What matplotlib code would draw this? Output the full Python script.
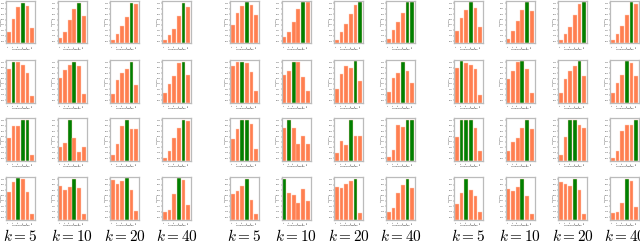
import matplotlib
matplotlib.use("Agg")
import matplotlib.pyplot as plt
import numpy as np

plt.rcParams['mathtext.fontset'] = 'cm'

k_labels = ["$k = 5$", "$k = 10$", "$k = 20$", "$k = 40$"]
x_ticklabels = ["2", "4", "8", "16", "32", "64"]
xlabel_text = "Local Dimension"
ylabel_text = "Accuracy"

# heights of the six bars (fraction of axis), group -> row -> column (k)
group1 = [
    [[0.28, 0.58, 0.86, 0.95, 0.88, 0.37],
     [0.12, 0.28, 0.56, 0.82, 0.95, 0.65],
     [0.08, 0.22, 0.40, 0.63, 0.95, 0.94],
     [0.08, 0.21, 0.35, 0.65, 0.95, 0.87]],
    [[0.78, 0.96, 0.95, 0.88, 0.70, 0.16],
     [0.58, 0.76, 0.88, 0.96, 0.86, 0.20],
     [0.20, 0.53, 0.69, 0.79, 0.96, 0.42],
     [0.22, 0.43, 0.63, 0.92, 0.96, 0.65]],
    [[0.54, 0.81, 0.81, 0.95, 0.95, 0.14],
     [0.31, 0.41, 0.95, 0.52, 0.21, 0.31],
     [0.12, 0.40, 0.81, 0.95, 0.73, 0.73],
     [0.05, 0.23, 0.54, 0.77, 0.95, 0.92]],
    [[0.64, 0.88, 0.97, 0.95, 0.64, 0.12],
     [0.78, 0.69, 0.76, 0.96, 0.75, 0.14],
     [0.93, 0.84, 0.90, 0.97, 0.70, 0.21],
     [0.18, 0.22, 0.59, 0.97, 0.94, 0.35]],
]
group2 = [
    [[0.44, 0.72, 0.88, 0.97, 0.90, 0.68],
     [0.16, 0.26, 0.51, 0.80, 0.97, 0.965],
     [0.08, 0.27, 0.46, 0.70, 0.90, 0.97],
     [0.10, 0.32, 0.50, 0.72, 0.97, 0.97]],
    [[0.86, 0.95, 0.96, 0.93, 0.72, 0.28],
     [0.65, 0.73, 0.96, 0.95, 0.60, 0.27],
     [0.32, 0.68, 0.85, 0.82, 0.97, 0.50],
     [0.25, 0.58, 0.69, 0.95, 0.75, 0.46]],
    [[0.51, 0.74, 0.96, 0.96, 0.86, 0.26],
     [0.77, 0.96, 0.77, 0.38, 0.58, 0.38],
     [0.17, 0.47, 0.37, 0.96, 0.57, 0.57],
     [0.08, 0.25, 0.84, 0.80, 0.95, 0.95]],
    [[0.59, 0.68, 0.80, 0.95, 0.46, 0.14],
     [0.95, 0.63, 0.57, 0.38, 0.72, 0.43],
     [0.77, 0.73, 0.84, 0.91, 0.95, 0.16],
     [0.17, 0.27, 0.63, 0.81, 0.95, 0.74]],
]
group3 = [
    [[0.30, 0.60, 0.78, 0.97, 0.84, 0.38],
     [0.10, 0.30, 0.52, 0.78, 0.97, 0.76],
     [0.08, 0.22, 0.38, 0.66, 0.94, 0.97],
     [0.08, 0.22, 0.40, 0.66, 0.97, 0.94]],
    [[0.82, 0.97, 0.94, 0.88, 0.80, 0.17],
     [0.55, 0.75, 0.95, 0.97, 0.78, 0.22],
     [0.23, 0.56, 0.73, 0.87, 0.97, 0.62],
     [0.23, 0.47, 0.64, 0.97, 0.92, 0.63]],
    [[0.55, 0.96, 0.96, 0.96, 0.76, 0.23],
     [0.22, 0.43, 0.53, 0.76, 0.96, 0.74],
     [0.12, 0.55, 0.96, 0.96, 0.84, 0.76],
     [0.06, 0.23, 0.69, 0.84, 0.84, 0.96]],
    [[0.37, 0.63, 0.96, 0.69, 0.56, 0.17],
     [0.71, 0.66, 0.77, 0.96, 0.56, 0.13],
     [0.88, 0.84, 0.80, 0.96, 0.69, 0.14],
     [0.16, 0.18, 0.38, 0.96, 0.90, 0.30]],
]
groups = [group1, group2, group3]

W, H = 640, 245
fig = plt.figure(figsize=(W / 100, H / 100), dpi=100)

group_x = [6, 230, 454]
col_dx = [0, 51.5, 104, 156]
row_top = [1, 60, 118, 177]
ax_w, ax_h = 29, 42.5

orange = "#ff7f50"
green = "#008000"

for g, data in enumerate(groups):
    for r in range(4):
        for c in range(4):
            vals = np.array(data[r][c])
            left = group_x[g] + col_dx[c]
            top = row_top[r]
            ax = fig.add_axes([left / W, 1 - (top + ax_h) / H, ax_w / W, ax_h / H])
            xs = np.arange(len(vals))
            colors = [green if v >= vals.max() - 1e-9 else orange for v in vals]
            ax.bar(xs, vals, width=0.8, color=colors, edgecolor="#ffd0bf", linewidth=0.3)
            ax.set_xlim(-0.6, len(vals) - 0.4)
            ax.set_ylim(0, 1.0)
            ax.set_xticks(xs)
            ax.set_xticklabels(x_ticklabels, rotation=90, fontsize=1.5)
            yt = np.linspace(0.05, 0.95, 8)
            ax.set_yticks(yt)
            ax.set_yticklabels(["%.2f" % v for v in yt], fontsize=1.3)
            ax.tick_params(length=0.8, width=0.3, pad=0.4, colors="#444444")
            ax.set_xlabel(xlabel_text, fontsize=1.5, labelpad=0.5)
            ax.set_ylabel(ylabel_text, fontsize=1.4)
            ax.yaxis.set_label_coords(-0.14, 0.5)
            for s in ax.spines.values():
                s.set_color("#bbbbbb")
                s.set_linewidth(0.9)

for g in range(3):
    for c in range(4):
        cx = group_x[g] + col_dx[c] + ax_w / 2
        fig.text(cx / W, 1 - 236 / H, k_labels[c], ha="center", va="center", fontsize=11)

fig.savefig("out.png", dpi=100)
